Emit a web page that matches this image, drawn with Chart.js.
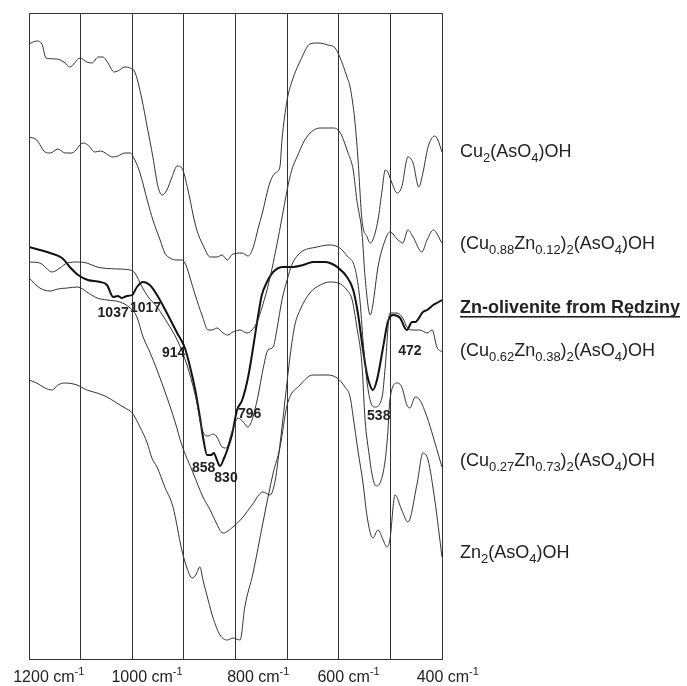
<!DOCTYPE html>
<html>
<head>
<meta charset="utf-8">
<script src="https://cdn.jsdelivr.net/npm/chart.js@4.4.1/dist/chart.umd.min.js"></script>
<style>
  html, body { margin: 0; padding: 0; background: #fff; }
  #wrap { width: 687px; height: 686px; }
</style>
</head>
<body>
<div id="wrap"><canvas id="ir"></canvas></div>
<script>
// wavenumbers (cm-1) and offset transmittance (arbitrary units)
const wnCu2 = [1200,1185,1175,1167,1146,1130,1121,1101,1088,1078,1066,1057,1047,1035,1028,1014,1004,995,989,981,971,960,950,942,933,923,913,904,892,882,875,863,849,836,826,816,805,787,776,766,756,749,733,723,714,710,700,691,671,656,640,621,607,598,584,578,569,563,555,545,539,534,524,516,510,505,497,487,478,466,456,445,437,427,414,408,400];
const tCu2 = [615,618,615,601,600,596,592,601,597,596,602,602,596,587,588,592,591,587,577,559,532,502,472,464,469,482,493,491,469,444,429,414,402,402,404,399,405,406,403,411,431,444,477,486,492,519,559,577,602,615,616,614,611,602,582,572,539,502,439,422,416,419,439,469,489,487,476,466,472,502,496,472,486,512,523,519,507];

const wnCu88 = [1200,1185,1169,1159,1144,1130,1117,1095,1086,1072,1062,1037,1028,1014,1004,995,985,971,960,946,937,927,913,904,896,888,878,865,853,846,836,824,815,805,791,778,768,758,749,739,729,720,710,700,691,681,662,636,611,598,582,572,565,555,549,539,534,524,510,501,485,476,466,456,439,429,417,400];
const tCu88 = [522,519,507,506,510,506,506,516,514,507,508,502,503,506,506,499,486,459,439,419,406,401,399,399,394,381,364,344,329,329,331,326,324,327,329,326,329,337,351,369,391,414,441,469,489,502,522,531,531,527,506,489,459,426,382,344,354,392,419,427,419,416,429,422,407,419,429,416];

const wnRedz = [1200,1179,1159,1136,1121,1105,1086,1062,1049,1037,1028,1020,1010,1000,991,979,966,952,933,913,898,888,878,869,863,855,847,842,836,830,822,816,807,797,787,778,772,766,756,749,739,727,708,689,669,650,627,617,603,584,572,563,553,545,539,534,526,514,505,495,481,472,468,458,452,437,429,417,410,400];
const tRedz = [412,409,406,401,392,384,379,377,374,362,363,361,363,364,372,377,374,364,346,326,311,292,269,242,222,204,204,206,199,193,201,209,224,249,259,276,292,311,344,364,377,387,392,392,394,397,397,396,392,382,369,346,309,284,273,269,279,312,337,344,341,331,329,337,337,347,349,354,356,359];

const wnCu62 = [1200,1179,1155,1140,1126,1105,1088,1068,1030,1004,995,981,969,952,933,913,894,878,863,853,844,836,826,818,807,795,785,776,768,756,747,737,727,720,710,700,691,675,642,617,598,582,572,565,559,553,545,536,530,516,510,501,487,476,468,456,443,429,419,410,400];
const tCu62 = [397,396,387,391,396,397,396,392,390,389,386,372,362,352,337,319,294,264,227,223,225,222,212,211,227,241,237,232,239,264,289,309,312,329,359,379,394,406,412,414,411,402,396,382,359,319,276,254,252,262,292,346,346,341,332,329,329,326,329,312,307];

const wnCu27 = [1200,1179,1159,1144,1126,1105,1088,1068,1049,1024,1004,991,979,966,952,933,917,904,882,863,849,840,824,805,787,768,747,733,723,714,704,694,685,675,656,636,617,601,584,574,565,555,549,541,536,528,520,510,505,501,487,478,468,462,452,443,429,417,404,400];
const tCu27 = [381,371,368,370,371,372,367,361,359,357,351,342,322,307,289,262,237,214,186,162,149,139,126,132,141,154,167,164,179,214,259,304,334,349,366,374,377,376,369,359,332,294,239,204,186,173,176,199,226,259,276,272,254,251,262,259,242,222,199,192];

const wnZn2 = [1200,1185,1169,1155,1144,1130,1107,1088,1068,1049,1030,1014,1000,985,971,962,952,937,921,904,894,884,877,869,863,853,844,830,816,805,791,782,766,747,727,714,700,675,650,623,603,588,578,572,563,553,545,534,524,514,507,501,491,478,466,448,437,427,414,400];
const tZn2 = [279,276,271,269,274,276,274,269,266,262,256,251,246,232,216,201,192,172,152,109,91,81,84,92,79,59,42,24,19,21,19,52,86,136,186,211,254,274,284,284,281,272,262,242,209,176,142,121,129,119,112,119,164,149,137,176,206,199,159,102];

const seriesNames = [
  "Cu_{2}(AsO_{4})OH",
  "(Cu_{0.88}Zn_{0.12})_{2}(AsO_{4})OH",
  "Zn-olivenite from Rędziny",
  "(Cu_{0.62}Zn_{0.38})_{2}(AsO_{4})OH",
  "(Cu_{0.27}Zn_{0.73})_{2}(AsO_{4})OH",
  "Zn_{2}(AsO_{4})OH"
];
const xTicks = [1200, 1000, 800, 600, 400];
const peakWn = [1037, 1017, 914, 858, 830, 796, 538, 472];

const FONT = '"Liberation Sans", Arial, Helvetica, sans-serif';
const pts = (wn, t) => wn.map((w, i) => ({ x: w, y: t[i] }));

function drawRich(ctx, x, y, text, size, bold) {
  const parts = text.split(/(_\{[^}]*\}|\^\{[^}]*\})/).filter(Boolean);
  let cx = x;
  for (const p of parts) {
    let s = p, sz = size, dy = 0;
    if (p.startsWith("_{")) { s = p.slice(2, -1); sz = Math.round(size * 0.74); dy = size * 0.3; }
    else if (p.startsWith("^{")) { s = p.slice(2, -1); sz = Math.round(size * 0.7); dy = -size * 0.42; }
    ctx.font = (bold ? "bold " : "") + sz + "px " + FONT;
    ctx.fillText(s, cx, y + dy);
    cx += ctx.measureText(s).width;
  }
  return cx - x;
}

const annotations = {
  id: "annotations",
  afterDraw(chart) {
    const { ctx, chartArea: a, scales: { x } } = chart;
    ctx.save();
    ctx.strokeStyle = "#333";
    ctx.lineWidth = 1;
    ctx.strokeRect(Math.round(a.left) + 0.5, Math.round(a.top) + 0.5, Math.round(a.right - a.left), Math.round(a.bottom - a.top));

    ctx.fillStyle = "#222";
    ctx.textBaseline = "alphabetic";
    ctx.textAlign = "left";

    // x tick labels with superscript units
    const shift = [2, -3, 5, -8, -12];
    xTicks.forEach((v, i) => {
      ctx.font = "16px " + FONT;
      const w = ctx.measureText(String(v)).width;
      drawRich(ctx, x.getPixelForValue(v) - w / 2 + shift[i], 682, v + " cm^{-1}", 16, false);
    });

    // series names on the right
    const base = [157, 249, 313, 356, 466, 558];
    seriesNames.forEach((name, i) => {
      const bold = i === 2;
      const w = drawRich(ctx, 460, base[i], name, 18, bold);
      if (bold) {
        ctx.fillRect(460, base[i] + 3, w, 1.6);
      }
    });

    // band positions of the Rędziny sample
    const dx = [0, 22, -3, -2, 6, 12, 8, 5];
    const by = [317, 312, 357, 472, 482, 418, 420, 355];
    ctx.textAlign = "center";
    ctx.font = "bold 14px " + FONT;
    peakWn.forEach((p, i) => {
      ctx.fillText(String(p), x.getPixelForValue(p) + dx[i], by[i]);
    });
    ctx.restore();
  }
};

const thin = { borderColor: "#333", borderWidth: 1, pointRadius: 0, fill: false, cubicInterpolationMode: "monotone" };

new Chart(document.getElementById("ir"), {
  type: "line",
  data: {
    datasets: [
      { ...thin, label: seriesNames[0], data: pts(wnCu2, tCu2) },
      { ...thin, label: seriesNames[1], data: pts(wnCu88, tCu88) },
      { ...thin, label: seriesNames[3], data: pts(wnCu62, tCu62) },
      { ...thin, label: seriesNames[4], data: pts(wnCu27, tCu27) },
      { ...thin, label: seriesNames[5], data: pts(wnZn2, tZn2) },
      { ...thin, label: seriesNames[2], data: pts(wnRedz, tRedz), borderColor: "#111", borderWidth: 2 }
    ]
  },
  options: {
    responsive: true,
    maintainAspectRatio: false,
    devicePixelRatio: 1,
    animation: false,
    layout: { padding: { left: 29, right: 245, top: 13, bottom: 27 } },
    plugins: { legend: { display: false }, tooltip: { enabled: false } },
    scales: {
      x: {
        type: "linear",
        min: 400,
        max: 1200,
        reverse: true,
        ticks: { display: false, stepSize: 100 },
        grid: { color: "#333", lineWidth: 1, drawTicks: false },
        border: { display: true, color: "#333" }
      },
      y: { type: "linear", display: false, min: 0, max: 646 }
    }
  },
  plugins: [annotations]
});
</script>
</body>
</html>
